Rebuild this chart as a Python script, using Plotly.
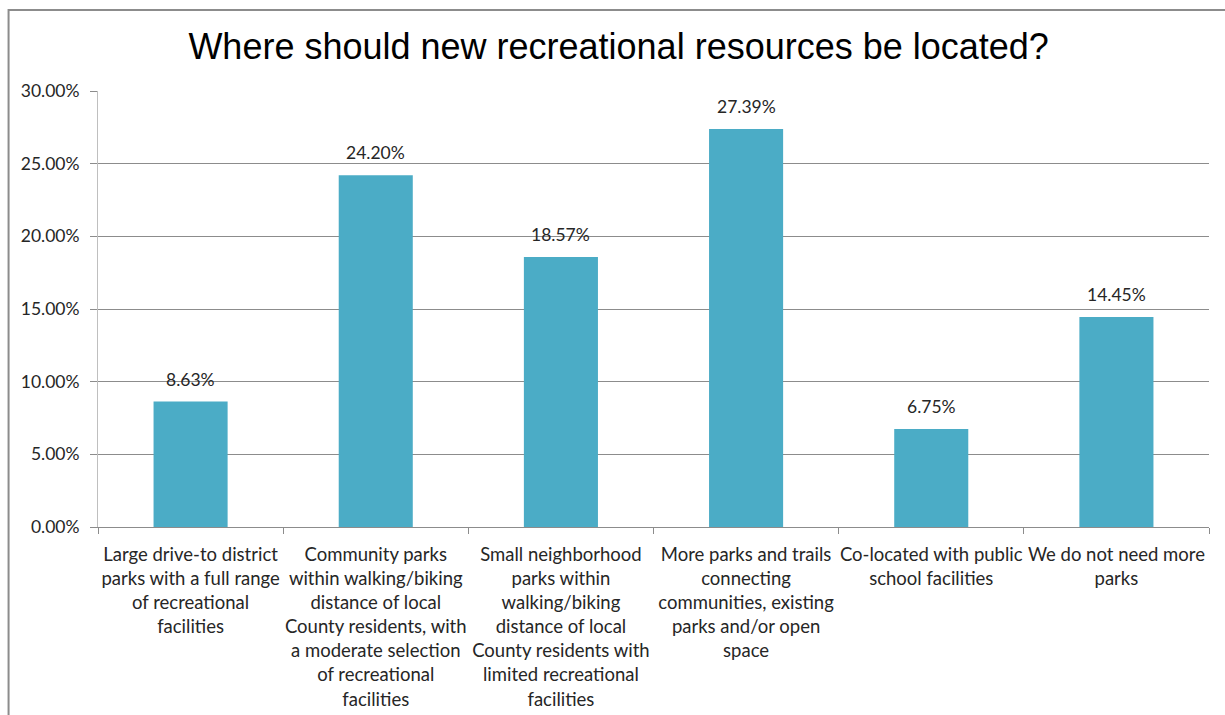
import plotly.graph_objects as go

# Survey responses: preferred location of new recreational resources
categories = [
    "Large drive-to district<br>parks with a full range<br>of recreational<br>facilities",
    "Community parks<br>within walking/biking<br>distance of local<br>County residents, with<br>a moderate selection<br>of recreational<br>facilities",
    "Small neighborhood<br>parks within<br>walking/biking<br>distance of local<br>County residents with<br>limited recreational<br>facilities",
    "More parks and trails<br>connecting<br>communities, existing<br>parks and/or open<br>space",
    "Co-located with public<br>school facilities",
    "We do not need more<br>parks",
]
shares = [8.63, 24.20, 18.57, 27.39, 6.75, 14.45]
y_ticks = [0, 5, 10, 15, 20, 25, 30]
y_tick_labels = ["0.00%", "5.00%", "10.00%", "15.00%", "20.00%", "25.00%", "30.00%"]

BAR = "#4BACC6"
TEXT = "#262626"
FONT = "Lato, 'Open Sans', sans-serif"

fig = go.Figure(
    go.Bar(
        x=categories,
        y=shares,
        marker=dict(color=BAR, line=dict(width=0)),
        width=0.4,
        hoverinfo="skip",
    )
)

# value labels above each bar
for cat, val in zip(categories, shares):
    fig.add_annotation(
        x=cat, y=val, text=f"{val:.2f}%", showarrow=False,
        yanchor="bottom", yshift=10,
        font=dict(family=FONT, size=17.5, color=TEXT),
    )

# outer chart frame
fig.add_shape(
    type="rect", xref="paper", yref="paper",
    x0=-0.0805, x1=1.05, y0=-0.6, y1=1.186,
    line=dict(color="#8c8c8c", width=2), layer="below",
)

fig.update_layout(
    width=1225, height=715,
    margin=dict(l=98, r=16, t=91, b=188),
    paper_bgcolor="white", plot_bgcolor="white",
    title=dict(
        text="Where should new recreational resources be located?",
        x=0.505, xref="container", xanchor="center",
        y=0.935, yanchor="middle",
        font=dict(family="'Liberation Sans', Arial, sans-serif", size=36, color="black"),
    ),
    showlegend=False,
    bargap=0.6,
)

fig.update_xaxes(
    type="category",
    automargin=False,
    showgrid=False,
    showline=True, linecolor="#8c8c8c", linewidth=1,
    ticks="outside", ticklen=6, tickcolor="#8c8c8c",
    tickson="boundaries",
    tickangle=0,
    ticklabelstandoff=11,
    tickfont=dict(family=FONT, size=18.5, color=TEXT),
)
fig.update_yaxes(
    range=[0, 30],
    automargin=False,
    tickvals=y_ticks, ticktext=y_tick_labels,
    showgrid=True, gridcolor="#8c8c8c", gridwidth=1,
    showline=True, linecolor="#bfbfbf", linewidth=1,
    ticks="outside", ticklen=7, tickcolor="#8c8c8c",
    ticklabelstandoff=7,
    tickfont=dict(family=FONT, size=17.5, color=TEXT),
    zeroline=False,
)

fig.write_html("out.html")
